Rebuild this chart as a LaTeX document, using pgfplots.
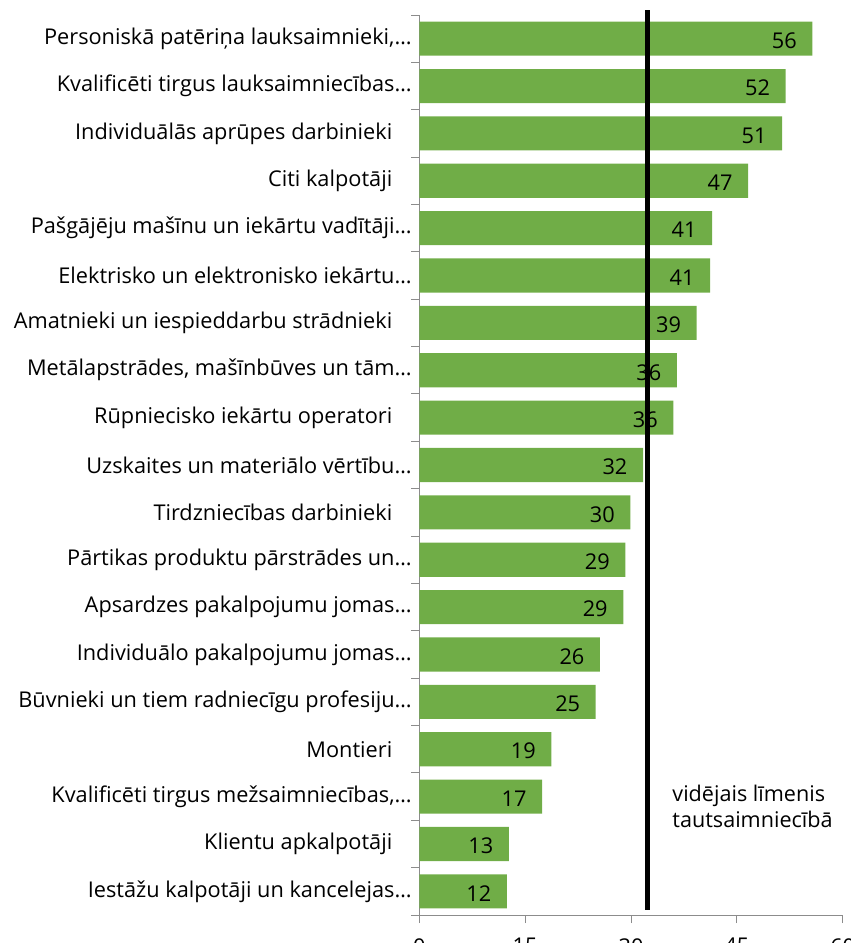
\documentclass[border=0pt]{standalone}
\usepackage{fontspec}
\setmainfont{Open Sans}
\usepackage{pgfplots}
\pgfplotsset{compat=1.18}
\definecolor{bargreen}{HTML}{70AD47}
\definecolor{axgray}{HTML}{8C8C8C}
\newcommand{\tsp}{\kern14.5pt}

\begin{document}
\begin{tikzpicture}
\begin{axis}[
  scale only axis,
  width=317.55pt, height=675pt,
  xmin=0, xmax=60,
  ymin=-0.5, ymax=18.5,
  y dir=reverse,
  axis x line*=bottom,
  axis y line*=left,
  axis line style={axgray, line width=0.75pt, -},
  tick align=outside,
  major tick length=6pt,
  tick style={axgray, line width=0.75pt},
  xtick={0,15,...,60},
  ytick={-0.5,0.5,...,18.5},
  y tick label as interval,
  yticklabels={
    {Personiskā patēriņa lauksaimnieki,…},
    {Kvalificēti tirgus lauksaimniecības…},
    {Individuālās aprūpes darbinieki\tsp},
    {Citi kalpotāji\tsp},
    {Pašgājēju mašīnu un iekārtu vadītāji…},
    {Elektrisko un elektronisko iekārtu…},
    {Amatnieki un iespieddarbu strādnieki\tsp},
    {Metālapstrādes, mašīnbūves un tām…},
    {Rūpniecisko iekārtu operatori\tsp},
    {Uzskaites un materiālo vērtību…},
    {Tirdzniecības darbinieki\tsp},
    {Pārtikas produktu pārstrādes un…},
    {Apsardzes pakalpojumu jomas…},
    {Individuālo pakalpojumu jomas…},
    {Būvnieki un tiem radniecīgu profesiju…},
    {Montieri\tsp},
    {Kvalificēti tirgus mežsaimniecības,…},
    {Klientu apkalpotāji\tsp},
    {Iestāžu kalpotāji un kancelejas…}
  },
  tick label style={font=\fontsize{16.3}{19}\selectfont, black},
  yticklabel style={xshift=3.75pt},
  xticklabel style={yshift=-8pt},
  /pgf/number format/assume math mode=true,
  clip=false,
]
\addplot[xbar, bar width=0.72, fill=bargreen, draw=none,
  point meta=explicit symbolic,
  nodes near coords,
  nodes near coords style={anchor=east, xshift=-11.5pt, yshift=-1.5pt,
    inner sep=0pt, font=\fontsize{16.3}{19}\selectfont, black}]
  coordinates {
  (55.7,0) [56]
  (51.9,1) [52]
  (51.4,2) [51]
  (46.6,3) [47]
  (41.5,4) [41]
  (41.2,5) [41]
  (39.3,6) [39]
  (36.5,7) [36]
  (36.0,8) [36]
  (31.7,9) [32]
  (29.9,10) [30]
  (29.2,11) [29]
  (28.9,12) [29]
  (25.6,13) [26]
  (25.0,14) [25]
  (18.7,15) [19]
  (17.4,16) [17]
  (12.7,17) [13]
  (12.4,18) [12]
};
% average level line
\addplot[sharp plot, black, line width=3.75pt, no markers] coordinates {
  (32.3,-0.6) (32.3,18.4)
};
\node[anchor=base west, align=left, font=\fontsize{16.2}{19.5}\selectfont]
  at (axis cs:35.2,16.66) {vidējais līmenis\\tautsaimniecībā};
\coordinate (TL) at (axis cs:0,-0.5);
\coordinate (BR) at (axis cs:60,18.5);
\end{axis}
\pgfresetboundingbox
\path[use as bounding box]
  ([xshift=-314.5pt,yshift=11.25pt]TL)
  rectangle ([xshift=5.5pt,yshift=-21pt]BR);
\end{tikzpicture}
\end{document}
